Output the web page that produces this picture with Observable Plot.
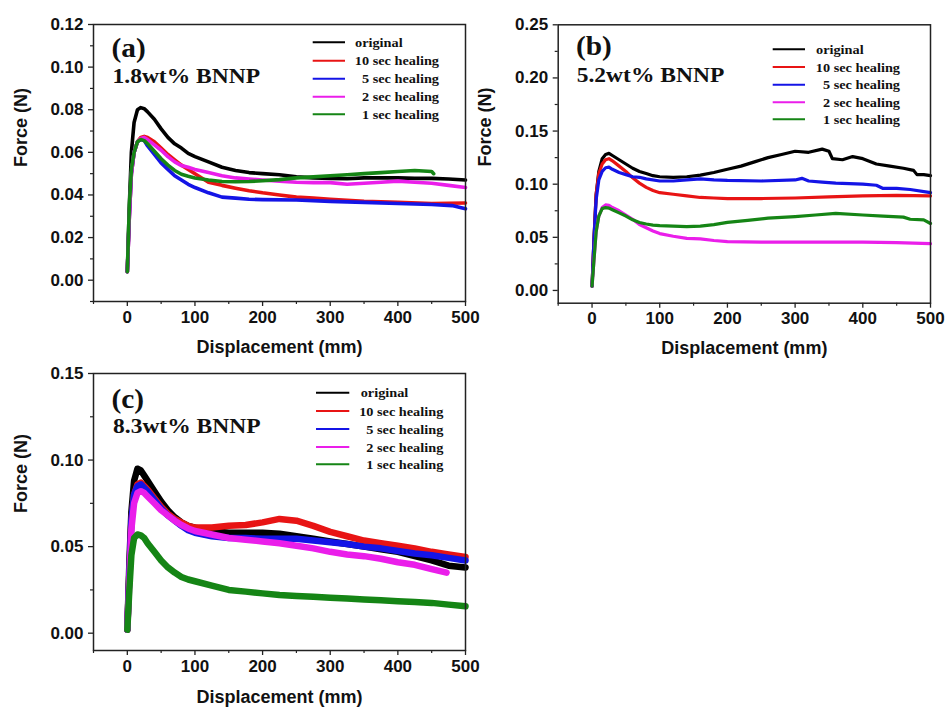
<!DOCTYPE html>
<html><head><meta charset="utf-8">
<script src="https://cdn.jsdelivr.net/npm/d3@7"></script>
<script src="https://cdn.jsdelivr.net/npm/@observablehq/plot@0.6"></script>
<style>
body{margin:0;background:#fff;}
#root{position:relative;width:947px;height:707px;overflow:hidden;background:#fff;}
.panel{position:absolute;}
.panel svg{overflow:visible;background:transparent;}
#overlay{position:absolute;left:0;top:0;pointer-events:none;}
</style></head><body><div id="root"></div>
<script>
// ---- categories / styling keys ----
const seriesNames = ["original", "10 sec healing", "5 sec healing", "2 sec healing", "1 sec healing"];
const seriesColors = ["#000000", "#e81414", "#1414e6", "#ea1eea", "#158515"];
const panelTags = ["(a)", "(b)", "(c)"];
const panelTitles = ["1.8wt% BNNP", "5.2wt% BNNP", "8.3wt% BNNP"];
const xLabel = "Displacement (mm)";
const yLabel = "Force (N)";

// ---- tick labels ----
const xTicks = [0, 100, 200, 300, 400, 500];
const xMinor = [-50, 50, 150, 250, 350, 450];
const yTicksA = [0, 0.02, 0.04, 0.06, 0.08, 0.10, 0.12];
const yMinorA = [-0.01, 0.01, 0.03, 0.05, 0.07, 0.09, 0.11];
const yTicksB = [0, 0.05, 0.10, 0.15, 0.20, 0.25];
const yMinorB = [0.025, 0.075, 0.125, 0.175, 0.225];
const yTicksC = [0, 0.05, 0.10, 0.15];
const yMinorC = [0.025, 0.075, 0.125];

// ---- panel (a) 1.8wt% ----
const a_original = [[0,0.004],[3,0.035],[6,0.06],[10,0.074],[15,0.080],[20,0.081],[25,0.0805],[30,0.079],[40,0.0755],[50,0.071],[60,0.067],[70,0.064],[80,0.062],[90,0.0595],[100,0.058],[120,0.0555],[140,0.053],[160,0.0515],[180,0.0505],[200,0.050],[225,0.0495],[250,0.0485],[275,0.048],[300,0.0478],[325,0.0476],[350,0.048],[375,0.048],[400,0.048],[425,0.0478],[450,0.0478],[475,0.0475],[500,0.047]];
const a_10s = [[0,0.004],[3,0.03],[6,0.05],[10,0.06],[15,0.065],[20,0.067],[25,0.0675],[30,0.067],[40,0.065],[50,0.062],[60,0.059],[70,0.0565],[80,0.054],[90,0.052],[100,0.050],[110,0.048],[120,0.046],[140,0.0445],[160,0.0432],[180,0.042],[200,0.041],[225,0.040],[250,0.039],[275,0.0385],[300,0.038],[350,0.037],[400,0.0365],[450,0.036],[500,0.0362]];
const a_5s = [[0,0.004],[3,0.03],[6,0.05],[10,0.06],[15,0.065],[20,0.066],[25,0.0655],[30,0.063],[40,0.059],[50,0.055],[60,0.052],[70,0.049],[80,0.047],[90,0.045],[100,0.0435],[120,0.041],[140,0.039],[160,0.0385],[180,0.038],[200,0.0378],[250,0.0376],[300,0.037],[350,0.0365],[400,0.036],[450,0.0355],[480,0.035],[500,0.0335]];
const a_2s = [[0,0.004],[3,0.03],[6,0.05],[10,0.06],[15,0.065],[20,0.0665],[25,0.067],[30,0.066],[40,0.0635],[50,0.061],[60,0.058],[70,0.0555],[80,0.0538],[90,0.053],[100,0.052],[120,0.0505],[140,0.049],[160,0.048],[180,0.0475],[200,0.047],[225,0.0465],[250,0.046],[275,0.0458],[300,0.0458],[325,0.045],[350,0.0455],[375,0.046],[400,0.0465],[425,0.046],[450,0.0455],[475,0.0445],[500,0.0435]];
const a_1s = [[0,0.004],[3,0.035],[6,0.052],[10,0.06],[15,0.065],[20,0.066],[25,0.0655],[30,0.064],[40,0.0605],[50,0.057],[60,0.054],[70,0.0515],[80,0.0497],[90,0.0488],[100,0.048],[120,0.047],[140,0.0463],[160,0.0462],[180,0.0463],[200,0.0467],[225,0.0472],[250,0.048],[275,0.0485],[300,0.049],[325,0.0495],[350,0.050],[375,0.0505],[400,0.051],[425,0.0515],[450,0.051],[453,0.050]];

// ---- panel (b) 5.2wt% ----
const b_original = [[0,0.004],[3,0.05],[6,0.09],[10,0.112],[15,0.124],[20,0.128],[25,0.129],[30,0.127],[40,0.123],[50,0.119],[60,0.115],[70,0.112],[80,0.110],[90,0.108],[100,0.107],[120,0.1065],[140,0.107],[160,0.1085],[180,0.111],[200,0.114],[220,0.117],[240,0.121],[260,0.125],[280,0.128],[300,0.131],[320,0.130],[340,0.133],[350,0.131],[355,0.124],[370,0.123],[385,0.126],[400,0.124],[420,0.119],[440,0.117],[460,0.115],[475,0.113],[480,0.109],[490,0.109],[500,0.108]];
const b_10s = [[0,0.004],[3,0.05],[6,0.09],[10,0.11],[15,0.119],[20,0.123],[25,0.124],[30,0.122],[40,0.117],[50,0.112],[60,0.106],[70,0.101],[80,0.097],[90,0.094],[100,0.092],[120,0.0905],[140,0.089],[160,0.0875],[180,0.087],[200,0.0865],[250,0.0865],[300,0.087],[350,0.088],[400,0.089],[450,0.0895],[500,0.089]];
const b_5s = [[0,0.004],[3,0.05],[6,0.085],[10,0.104],[15,0.112],[20,0.1155],[25,0.116],[30,0.114],[40,0.111],[50,0.109],[60,0.107],[70,0.1065],[80,0.105],[100,0.103],[120,0.103],[140,0.104],[160,0.105],[180,0.104],[200,0.1035],[250,0.103],[300,0.104],[310,0.1055],[320,0.103],[340,0.102],[360,0.101],[380,0.1005],[400,0.100],[420,0.099],[430,0.096],[450,0.096],[470,0.095],[500,0.092]];
const b_2s = [[0,0.004],[3,0.03],[6,0.055],[10,0.07],[15,0.078],[20,0.0805],[25,0.080],[30,0.078],[40,0.075],[50,0.071],[60,0.067],[70,0.062],[80,0.059],[90,0.056],[100,0.0535],[120,0.051],[140,0.049],[160,0.0485],[180,0.047],[200,0.046],[250,0.0455],[300,0.0455],[350,0.0455],[400,0.0455],[450,0.045],[500,0.044]];
const b_1s = [[0,0.004],[3,0.03],[6,0.055],[10,0.07],[15,0.077],[20,0.078],[25,0.0775],[30,0.076],[40,0.073],[50,0.070],[60,0.0665],[70,0.064],[80,0.0625],[90,0.0615],[100,0.061],[120,0.0605],[140,0.060],[160,0.0605],[180,0.062],[200,0.064],[230,0.066],[260,0.068],[300,0.0695],[330,0.071],[360,0.0725],[400,0.071],[430,0.070],[460,0.069],[470,0.067],[490,0.0665],[500,0.063]];

// ---- panel (c) 8.3wt% ----
const c_original = [[0,0.002],[3,0.04],[6,0.07],[10,0.088],[15,0.095],[20,0.094],[25,0.091],[30,0.088],[40,0.082],[50,0.076],[60,0.071],[70,0.067],[80,0.064],[90,0.062],[100,0.061],[125,0.059],[150,0.058],[175,0.058],[200,0.058],[225,0.0575],[250,0.056],[275,0.0545],[300,0.053],[325,0.0515],[350,0.050],[375,0.0485],[400,0.047],[425,0.0445],[450,0.042],[475,0.039],[500,0.038]];
const c_10s = [[0,0.002],[3,0.035],[6,0.065],[10,0.08],[15,0.086],[20,0.087],[25,0.085],[30,0.083],[40,0.078],[50,0.073],[60,0.069],[70,0.066],[80,0.064],[90,0.062],[100,0.061],[125,0.061],[150,0.062],[175,0.0625],[200,0.064],[225,0.066],[250,0.065],[275,0.062],[300,0.0585],[325,0.056],[350,0.0535],[375,0.052],[400,0.0505],[425,0.049],[450,0.047],[475,0.0455],[500,0.044]];
const c_5s = [[0,0.002],[3,0.035],[6,0.065],[10,0.08],[15,0.085],[20,0.086],[25,0.084],[30,0.082],[40,0.077],[50,0.072],[60,0.068],[70,0.065],[80,0.062],[90,0.0595],[100,0.058],[125,0.056],[150,0.055],[175,0.055],[200,0.0545],[225,0.0545],[250,0.0545],[275,0.0535],[300,0.0525],[325,0.0515],[350,0.050],[375,0.049],[400,0.0475],[425,0.046],[450,0.045],[475,0.0435],[500,0.042]];
const c_2s = [[0,0.002],[3,0.03],[6,0.06],[10,0.075],[15,0.081],[20,0.082],[25,0.081],[30,0.079],[40,0.075],[50,0.071],[60,0.068],[70,0.065],[80,0.0625],[90,0.0605],[100,0.059],[125,0.057],[150,0.055],[175,0.054],[200,0.053],[225,0.052],[250,0.0505],[275,0.049],[300,0.047],[325,0.0455],[350,0.0445],[375,0.043],[400,0.041],[425,0.0395],[450,0.037],[472,0.035]];
const c_1s = [[0,0.002],[3,0.025],[6,0.045],[10,0.055],[15,0.057],[20,0.0565],[25,0.055],[30,0.052],[40,0.047],[50,0.042],[60,0.038],[70,0.035],[80,0.0325],[90,0.031],[100,0.030],[125,0.0275],[150,0.025],[175,0.024],[200,0.023],[225,0.022],[250,0.0215],[275,0.021],[300,0.0205],[325,0.020],[350,0.0195],[375,0.019],[400,0.0185],[425,0.018],[450,0.0175],[475,0.0165],[500,0.0155]];

// ---- build tables ----
function table(list) {
  const rows = [];
  list.forEach((arr, i) => arr.forEach(([x, y]) => rows.push({x, y, s: seriesNames[i]})));
  return rows;
}
const dataA = table([a_original, a_10s, a_5s, a_2s, a_1s]);
const dataB = table([b_original, b_10s, b_5s, b_2s, b_1s]);
const dataC = table([c_original, c_10s, c_5s, c_2s, c_1s]);

const SANS = "'Liberation Sans', Arial, sans-serif";
const SERIF = "'Liberation Serif', 'Times New Roman', serif";
const AXC = "#222";

function panel(cfg) {
  return Plot.plot({
    width: cfg.width, height: cfg.height,
    marginLeft: cfg.ml, marginRight: cfg.mr, marginTop: cfg.mt, marginBottom: cfg.mb,
    style: {background: "transparent", overflow: "visible", fontFamily: SANS},
    x: {domain: [-50, 500]},
    y: {domain: cfg.ydomain},
    color: {domain: seriesNames, range: seriesColors},
    marks: [
      Plot.line(cfg.data, {x: "x", y: "y", z: "s", stroke: "s", strokeWidth: cfg.sw, strokeLinejoin: "round", strokeLinecap: "round"}),
      Plot.frame({stroke: AXC, strokeWidth: 1.5}),
      Plot.axisX({ticks: xTicks, tickSize: 5, tickPadding: 4, stroke: AXC, strokeWidth: 1.3, fill: "#111", fontSize: 17, fontWeight: "bold", fontFamily: SANS, label: null}),
      Plot.axisX({ticks: xMinor, tickSize: 3, stroke: AXC, strokeWidth: 1.2, fill: "none", label: null}),
      Plot.axisY({ticks: cfg.yticks, tickSize: 5, tickPadding: 5, tickFormat: d3.format(".2f"), stroke: AXC, strokeWidth: 1.3, fill: "#111", fontSize: 17, fontWeight: "bold", fontFamily: SANS, label: null}),
      Plot.axisY({ticks: cfg.yminor, tickSize: 3, stroke: AXC, strokeWidth: 1.2, fill: "none", label: null}),
      Plot.text([xLabel], {frameAnchor: "bottom", dy: cfg.xldy, lineAnchor: "middle", fontSize: 18, fontWeight: "bold", fontFamily: SANS, fill: "#111"}),
      Plot.text([yLabel], {frameAnchor: "left", rotate: -90, dx: cfg.yldx, dy: cfg.yldy, lineAnchor: "middle", fontSize: 18, fontWeight: "bold", fontFamily: SANS, fill: "#111"})
    ]
  });
}

const root = document.getElementById("root");
function place(node, left, top) {
  const d = document.createElement("div");
  d.className = "panel";
  d.style.left = left + "px"; d.style.top = top + "px";
  d.appendChild(node);
  root.appendChild(d);
}

place(panel({data: dataA, width: 475, height: 360, ml: 93, mr: 10, mt: 24, mb: 59, ydomain: [-0.01, 0.12], yticks: yTicksA, yminor: yMinorA, sw: 3.6, xldy: 46, yldx: -72.3, yldy: 4}), 0, 0);
place(panel({data: dataB, width: 477, height: 360, ml: 87.7, mr: 17, mt: 24.3, mb: 57.3, ydomain: [-0.012, 0.25], yticks: yTicksB, yminor: yMinorB, sw: 3.2, xldy: 45.3, yldx: -72.7, yldy: 2.5}), 470, 0);
place(panel({data: dataC, width: 475, height: 362, ml: 93, mr: 10, mt: 28, mb: 57, ydomain: [-0.01, 0.15], yticks: yTicksC, yminor: yMinorC, sw: 6.5, xldy: 46.5, yldx: -72.3, yldy: 1}), 0, 345);

// ---- overlay: panel tags, titles, legends ----
const ov = d3.select(root).append("svg").attr("id", "overlay").attr("width", 947).attr("height", 707);
const headers = [
  {tx: 111.5, ty: 56.5, sx: 112.5, sy: 83.3},
  {tx: 576, ty: 55, sx: 576.7, sy: 81.7},
  {tx: 111.5, ty: 408.3, sx: 113, sy: 433}
];
headers.forEach((h, i) => {
  ov.append("text").attr("transform", `translate(${h.tx},${h.ty}) scale(1.05,1)`)
    .attr("font-family", SERIF).attr("font-weight", "bold").attr("font-size", 28).attr("fill", "#111").text(panelTags[i]);
  ov.append("text").attr("transform", `translate(${h.sx},${h.sy}) scale(1.12,1)`)
    .attr("font-family", SERIF).attr("font-weight", "bold").attr("font-size", 21).attr("fill", "#111").text(panelTitles[i]);
});
const legends = [
  {x0: 312.7, x1: 345, t0: 355, t1: 439, rows: [42.3, 60.7, 78.7, 96.7, 114.3]},
  {x0: 772.7, x1: 805, t0: 816, t1: 900, rows: [49.3, 67, 84.7, 102.3, 119.3]},
  {x0: 316, x1: 349.3, t0: 360.7, t1: 443.3, rows: [392.7, 411, 429, 447, 464.3]}
];
legends.forEach(L => {
  seriesNames.forEach((n, i) => {
    ov.append("line").attr("x1", L.x0).attr("x2", L.x1).attr("y1", L.rows[i]).attr("y2", L.rows[i])
      .attr("stroke", seriesColors[i]).attr("stroke-width", 2);
    const first = i === 0;
    ov.append("text").attr("transform", `translate(${first ? L.t0 : L.t1},${L.rows[i] + 4.5}) scale(1.1,1)`)
      .attr("text-anchor", first ? "start" : "end")
      .attr("font-family", SERIF).attr("font-weight", "bold").attr("font-size", 13).attr("fill", "#111").text(n);
  });
});
</script></body></html>
